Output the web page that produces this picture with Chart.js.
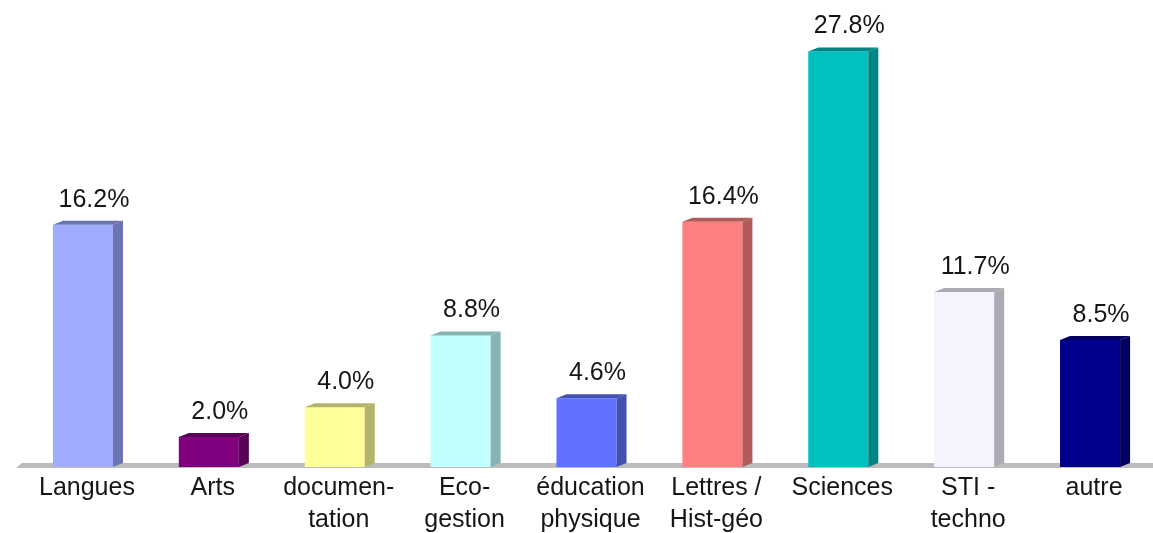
<!DOCTYPE html>
<html>
<head>
<meta charset="utf-8">
<script src="https://cdn.jsdelivr.net/npm/chart.js@4/dist/chart.umd.min.js"></script>
<style>
  html, body { margin: 0; padding: 0; background: #fff; }
  #wrap { width: 1153px; height: 533px; }
</style>
</head>
<body>
<div id="wrap"><canvas id="chart"></canvas></div>
<script>
// ---- data ----
const categories = [
  "Langues", "Arts", ["documen-", "tation"], ["Eco-", "gestion"],
  ["éducation", "physique"], ["Lettres /", "Hist-géo"], "Sciences",
  ["STI -", "techno"], "autre"
];
const shares = [16.2, 2.0, 4.0, 8.8, 4.6, 16.4, 27.8, 11.7, 8.5];
const frontColors = ["#a0acff", "#800080", "#ffff99", "#c2ffff", "#6072ff",
                     "#ff8080", "#00c0c0", "#f4f4ff", "#00008c"];
const sideColors  = ["#6b74b0", "#560056", "#b3b36b", "#86b3b3", "#4350b3",
                     "#b35a5a", "#008585", "#ababb3", "#00005e"];

const FONT = "'Liberation Sans', Arial, sans-serif";
const DX = 10, DY = 4;

// ---- 3D faces, floor and value labels ----
const bar3d = {
  id: "bar3d",
  beforeDatasetsDraw(chart) {
    const { ctx, chartArea } = chart;
    const b = chartArea.bottom;
    ctx.save();
    ctx.fillStyle = "#bcbcbc";
    ctx.beginPath();
    ctx.moveTo(chartArea.left - 4, b + 1);
    ctx.lineTo(chartArea.left + 2, b - 4);
    ctx.lineTo(chartArea.right, b - 4);
    ctx.lineTo(chartArea.right, b + 1);
    ctx.closePath();
    ctx.fill();
    ctx.restore();
  },
  afterDatasetsDraw(chart) {
    const { ctx } = chart;
    const meta = chart.getDatasetMeta(0);
    ctx.save();
    meta.data.forEach((bar, i) => {
      const { x, y, base, width } = bar.getProps(["x", "y", "base", "width"], true);
      const L = x - width / 2, R = x + width / 2;
      ctx.fillStyle = sideColors[i];
      // side face
      ctx.beginPath();
      ctx.moveTo(R, y);
      ctx.lineTo(R + DX, y - DY);
      ctx.lineTo(R + DX, base - DY);
      ctx.lineTo(R, base);
      ctx.closePath();
      ctx.fill();
      // top face
      ctx.beginPath();
      ctx.moveTo(L, y);
      ctx.lineTo(L + DX, y - DY);
      ctx.lineTo(R + DX, y - DY);
      ctx.lineTo(R, y);
      ctx.closePath();
      ctx.fill();
      // value label
      ctx.fillStyle = "#161616";
      ctx.font = "25px " + FONT;
      ctx.textAlign = "center";
      ctx.textBaseline = "middle";
      ctx.fillText(shares[i].toFixed(1) + "%", x + 11, y - 25);
    });
    ctx.restore();
  }
};

new Chart(document.getElementById("chart"), {
  type: "bar",
  data: {
    labels: categories,
    datasets: [{
      data: shares,
      backgroundColor: frontColors,
      borderWidth: 0,
      barPercentage: 1,
      categoryPercentage: 0.477
    }]
  },
  options: {
    responsive: true,
    maintainAspectRatio: false,
    animation: false,
    layout: { padding: { left: 20, right: 0, top: 0, bottom: 0 } },
    plugins: { legend: { display: false }, tooltip: { enabled: false } },
    scales: {
      x: {
        grid: { display: false, drawTicks: false },
        border: { display: false },
        afterFit(scale) { scale.height = 66; },
        ticks: {
          color: "#161616",
          padding: 5,
          labelOffset: 4,
          maxRotation: 0,
          autoSkip: false,
          font: { family: FONT, size: 25, lineHeight: 1.28 }
        }
      },
      y: {
        display: false,
        min: 0,
        max: 31.24
      }
    }
  },
  plugins: [bar3d]
});
</script>
</body>
</html>
